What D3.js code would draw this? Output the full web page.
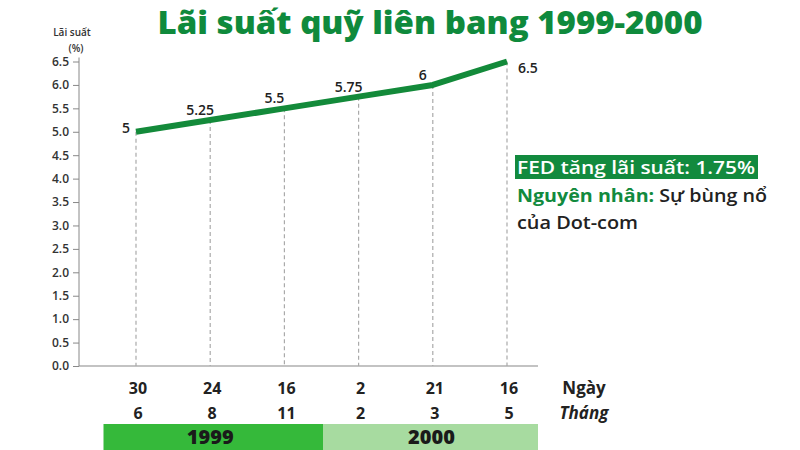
<!DOCTYPE html>
<html>
<head>
<meta charset="utf-8">
<script src="https://cdn.jsdelivr.net/npm/d3@7"></script>
<style>
  html, body { margin: 0; padding: 0; background: #fff; }
  svg { display: block; }
  text { font-family: "Open Sans", "Noto Sans", sans-serif; }
</style>
</head>
<body>
<svg id="chart" width="800" height="450"></svg>
<script>
// ---- Data ----
const days = ["30", "24", "16", "2", "21", "16"];
const months = ["6", "8", "11", "2", "3", "5"];
const rates = [5, 5.25, 5.5, 5.75, 6, 6.5];
const rateLabels = ["5", "5.25", "5.5", "5.75", "6", "6.5"];
const yTicks = [0, 0.5, 1, 1.5, 2, 2.5, 3, 3.5, 4, 4.5, 5, 5.5, 6, 6.5];
const years = ["1999", "2000"];

const svg = d3.select("#chart");
const green = "#138a3a";

// ---- Scales ----
const idx = d3.range(rates.length);
const x = d3.scalePoint().domain(idx).range([136, 507]);
const y = d3.scaleLinear().domain([0, 6.5]).range([366, 61.5]);

// ---- Title ----
svg.append("text")
  .attr("x", 430).attr("y", 34)
  .attr("text-anchor", "middle")
  .attr("fill", "#0f8a3c")
  .attr("textLength", 545)
  .attr("lengthAdjust", "spacingAndGlyphs")
  .style("font-weight", 800)
  .style("font-size", "32px")
  .text("Lãi suất quỹ liên bang 1999-2000");

// ---- Y axis ----
const yAxis = d3.axisLeft(y).tickValues(yTicks).tickFormat(d3.format(".1f")).tickSize(6).tickPadding(4);
const gy = svg.append("g").attr("transform", "translate(79,0)").call(yAxis);
gy.select(".domain").attr("stroke", "#888").attr("d", `M0,${y(6.5) - 4}V${y(0)}`);
gy.selectAll(".tick line").attr("stroke", "#888");
gy.selectAll(".tick text")
  .attr("fill", "#333")
  .style("font-family", "'Open Sans', sans-serif")
  .style("font-weight", 600)
  .style("font-size", "12px");

// y axis title
svg.append("text").attr("x", 72).attr("y", 36).attr("text-anchor", "middle")
  .attr("fill", "#333").style("font-size", "10px").style("font-weight", 600)
  .text("Lãi suất");
svg.append("text").attr("x", 76).attr("y", 52).attr("text-anchor", "middle")
  .attr("fill", "#333").style("font-size", "10px").style("font-weight", 600)
  .text("(%)");

// ---- X axis line ----
svg.append("line")
  .attr("x1", 79).attr("x2", 538)
  .attr("y1", y(0)).attr("y2", y(0))
  .attr("stroke", "#888").attr("stroke-width", 1.2);

// ---- dashed drop lines ----
svg.append("g").selectAll("line").data(idx).join("line")
  .attr("x1", d => x(d)).attr("x2", d => x(d))
  .attr("y1", d => y(rates[d])).attr("y2", y(0))
  .attr("stroke", "#aaa").attr("stroke-width", 1.2)
  .attr("stroke-dasharray", "4,3");

// ---- Line ----
const line = d3.line().x(d => x(d)).y(d => y(rates[d]));
svg.append("path").datum(idx)
  .attr("d", line)
  .attr("fill", "none")
  .attr("stroke", green)
  .attr("stroke-width", 6)
  .attr("stroke-linejoin", "round");

// ---- Point labels ----
svg.append("g").selectAll("text").data(idx).join("text")
  .attr("x", d => d === 0 ? x(d) - 6 : d === idx.length - 1 ? x(d) + 11 : x(d) - 10)
  .attr("y", d => d === 0 ? y(rates[d]) + 1 : d === idx.length - 1 ? y(rates[d]) + 11 : y(rates[d]) - 5)
  .attr("text-anchor", d => d === 0 ? "end" : d === idx.length - 1 ? "start" : "middle")
  .attr("fill", "#222")
  .style("font-size", "14px").style("font-weight", 600)
  .text(d => rateLabels[d]);

// ---- Day / month labels ----
svg.append("g").selectAll("text").data(idx).join("text")
  .attr("x", d => x(d) + 2).attr("y", 394)
  .attr("text-anchor", "middle").attr("fill", "#222")
  .style("font-size", "16px").style("font-weight", 700)
  .text(d => days[d]);
svg.append("g").selectAll("text").data(idx).join("text")
  .attr("x", d => x(d) + 2).attr("y", 419)
  .attr("text-anchor", "middle").attr("fill", "#222")
  .style("font-size", "16px").style("font-weight", 700)
  .text(d => months[d]);
svg.append("text").attr("x", 584).attr("y", 394).attr("text-anchor", "middle")
  .attr("fill", "#222").style("font-size", "17px").style("font-weight", 700)
  .text("Ngày");
svg.append("text").attr("x", 584).attr("y", 419).attr("text-anchor", "middle")
  .attr("fill", "#222").style("font-size", "17px").style("font-weight", 700)
  .style("font-style", "italic")
  .text("Tháng");

// ---- Year bands ----
const bandColors = ["#35b93a", "#a7dba0"];
const bandX = [103.5, 323, 538];
const yearG = svg.append("g");
years.forEach((yr, i) => {
  yearG.append("rect")
    .attr("x", bandX[i]).attr("y", 424)
    .attr("width", bandX[i + 1] - bandX[i]).attr("height", 26)
    .attr("fill", bandColors[i]);
  yearG.append("text")
    .attr("x", (bandX[i] + bandX[i + 1]) / 2 - 3 + (i === 0 ? 0 : 4))
    .attr("y", 444)
    .attr("text-anchor", "middle")
    .attr("fill", "#1a1a1a")
    .style("font-size", "20px").style("font-weight", 800)
    .text(yr);
});

// ---- Annotation ----
svg.append("rect").attr("x", 515).attr("y", 155).attr("width", 243).attr("height", 24)
  .attr("fill", "#128a3e");
svg.append("text").attr("x", 517).attr("y", 173.5)
  .attr("fill", "#fff").style("font-size", "18px").style("font-weight", 600)
  .attr("textLength", 238).attr("lengthAdjust", "spacingAndGlyphs")
  .text("FED tăng lãi suất: 1.75%");
const t2 = svg.append("text").attr("x", 517).attr("y", 202)
  .style("font-size", "18px").style("font-weight", 600)
  .attr("textLength", 250).attr("lengthAdjust", "spacingAndGlyphs");
t2.append("tspan").attr("fill", "#128a3e").style("font-weight", 700).text("Nguyên nhân: ");
t2.append("tspan").attr("fill", "#222").text("Sự bùng nổ");
svg.append("text").attr("x", 517).attr("y", 229)
  .attr("fill", "#222").style("font-size", "18px").style("font-weight", 600)
  .attr("textLength", 121).attr("lengthAdjust", "spacingAndGlyphs")
  .text("của Dot-com");
</script>
</body>
</html>
